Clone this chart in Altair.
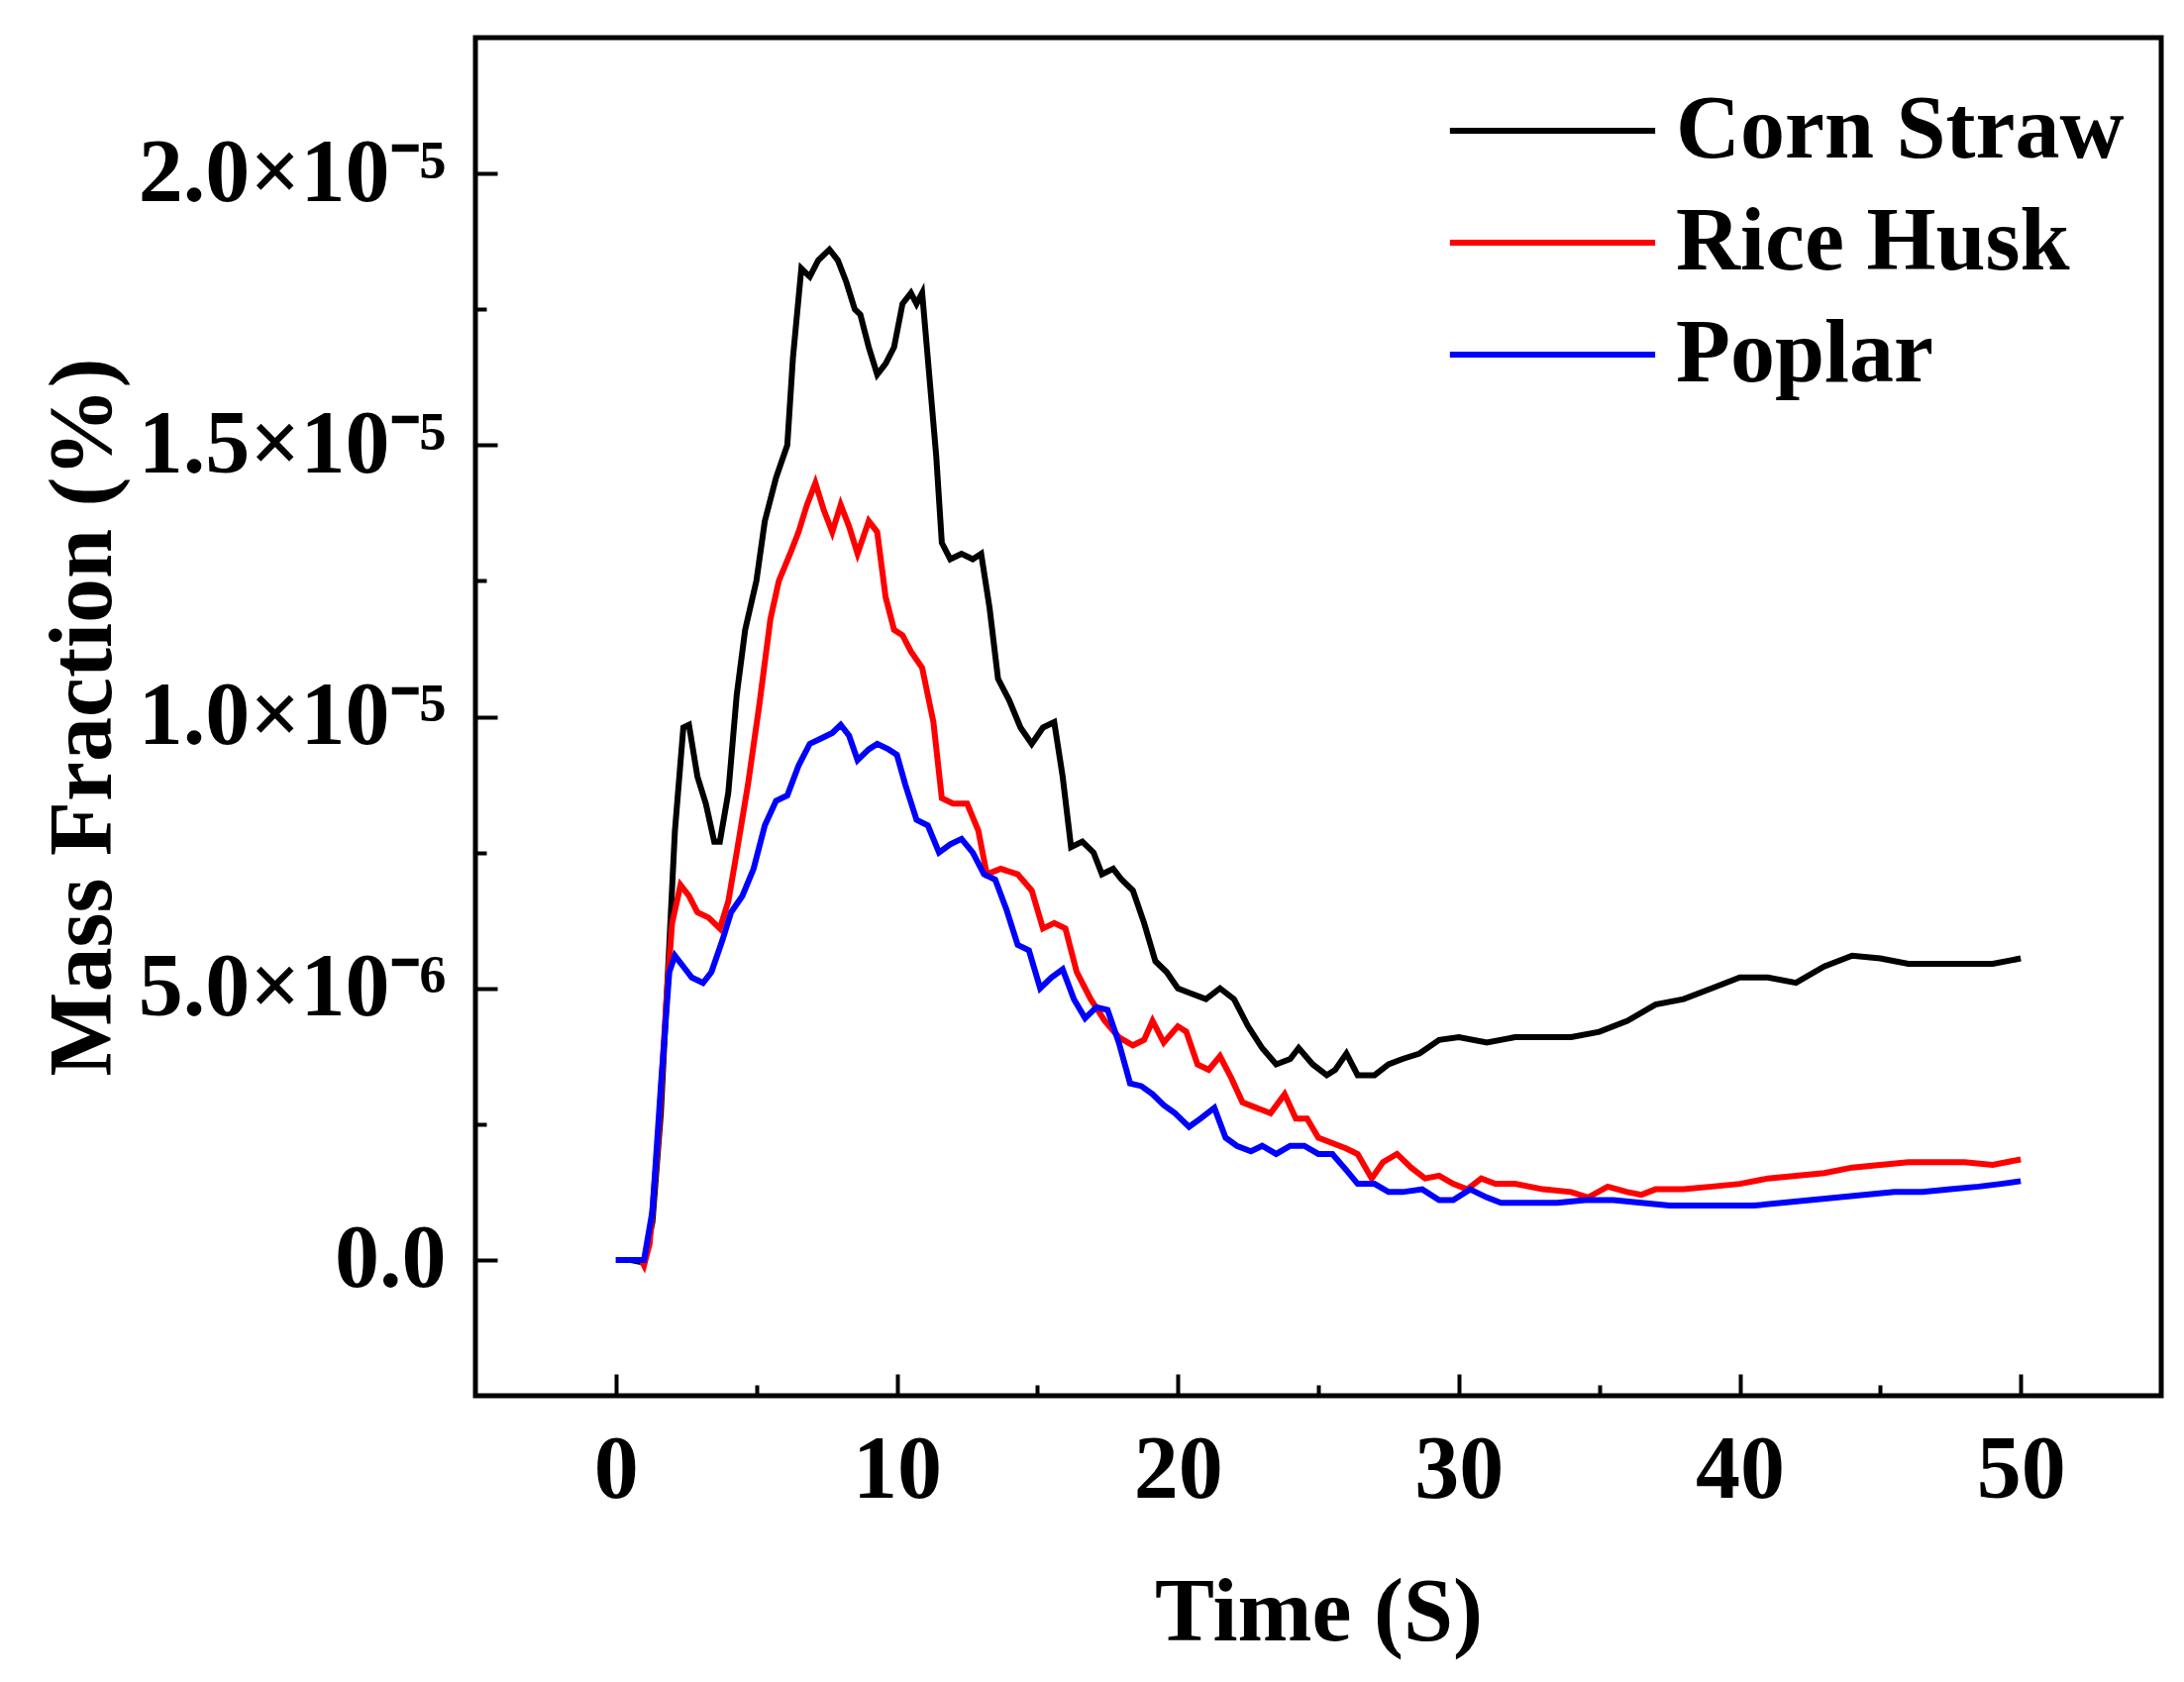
import altair as alt
import pandas as pd

FONT = "Liberation Serif"
SCALE = 1e-6  # values below are read in units of 1e-6

SERIES = ["Corn Straw", "Rice Husk", "Poplar"]
COLORS = ["#000000", "#FF0000", "#0000FF"]

corn_t = [0, 0.5, 1.0, 1.3, 1.6, 1.9, 2.1, 2.4, 2.6, 2.9, 3.2, 3.5, 3.7, 4.0, 4.3, 4.6,
          5.0, 5.3, 5.7, 6.1, 6.3, 6.6, 6.9, 7.2, 7.6, 7.9, 8.2, 8.5, 8.7, 9.0, 9.3,
          9.6, 9.9, 10.2, 10.5, 10.7, 10.9, 11.1, 11.4, 11.6, 11.9, 12.3, 12.7, 13.0,
          13.3, 13.6, 14.0, 14.4, 14.8, 15.2, 15.6, 15.9, 16.2, 16.6, 17.0, 17.3, 17.7,
          18.0, 18.4, 18.8, 19.2, 19.6, 20.0, 20.5, 21.0, 21.5, 22.0, 22.5, 23.0, 23.5,
          24.0, 24.3, 24.8, 25.3, 25.6, 26.0, 26.4, 27.0, 27.5, 28.0, 28.6, 29.3, 30.0,
          31.0, 32.0, 33.0, 34.0, 35.0, 36.0, 37.0, 38.0, 39.0, 40.0, 41.0, 42.0, 43.0,
          44.0, 45.0, 46.0, 47.0, 48.0, 49.0, 50.0]
corn_v = [0, 0, -0.05, 0.7, 2.7, 5.8, 7.9, 9.8, 9.85, 8.9, 8.4, 7.7, 7.7, 8.6, 10.4, 11.6,
          12.5, 13.6, 14.4, 15.0, 16.6, 18.25, 18.1, 18.4, 18.6, 18.4, 18.0, 17.5, 17.4,
          16.8, 16.3, 16.5, 16.8, 17.6, 17.8, 17.6, 17.8, 16.6, 14.8, 13.2, 12.9, 13.0,
          12.9, 13.0, 12.0, 10.7, 10.3, 9.8, 9.5, 9.8, 9.9, 8.9, 7.6, 7.7, 7.5, 7.1, 7.2,
          7.0, 6.8, 6.2, 5.5, 5.3, 5.0, 4.9, 4.8, 5.0, 4.8, 4.3, 3.9, 3.6, 3.7, 3.9, 3.6,
          3.4, 3.5, 3.8, 3.4, 3.4, 3.6, 3.7, 3.8, 4.05, 4.1, 4.0, 4.1, 4.1, 4.1, 4.2, 4.4,
          4.7, 4.8, 5.0, 5.2, 5.2, 5.1, 5.4, 5.6, 5.55, 5.45, 5.45, 5.45, 5.45, 5.55]

rice_t = [0, 0.5, 0.9, 1.0, 1.2, 1.5, 1.8, 2.0, 2.3, 2.6, 2.9, 3.3, 3.7, 4.0, 4.3, 4.7,
          5.1, 5.5, 5.8, 6.2, 6.5, 6.8, 7.1, 7.4, 7.7, 8.0, 8.3, 8.6, 9.0, 9.3, 9.6, 9.9,
          10.2, 10.5, 10.9, 11.3, 11.6, 12.0, 12.5, 12.9, 13.2, 13.7, 14.3, 14.8, 15.2,
          15.6, 16.0, 16.4, 16.9, 17.4, 17.9, 18.4, 18.8, 19.1, 19.5, 20.0, 20.3, 20.7,
          21.1, 21.5, 21.9, 22.3, 22.8, 23.3, 23.8, 24.2, 24.6, 25.0, 25.5, 26.0, 26.4,
          26.9, 27.3, 27.8, 28.3, 28.8, 29.3, 29.8, 30.3, 30.8, 31.3, 32.0, 33.0, 34.0,
          34.6, 35.3, 36.0, 36.5, 37.0, 38.0, 39.0, 40.0, 41.0, 42.0, 43.0, 44.0, 45.0,
          46.0, 47.0, 48.0, 49.0, 50.0]
rice_v = [0, 0, 0, -0.1, 0.3, 2.2, 4.8, 6.2, 6.9, 6.7, 6.4, 6.3, 6.1, 6.6, 7.5, 8.75,
          10.2, 11.8, 12.5, 13.0, 13.4, 13.9, 14.3, 13.8, 13.4, 13.9, 13.5, 13.0, 13.6,
          13.4, 12.2, 11.6, 11.5, 11.2, 10.9, 9.9, 8.5, 8.4, 8.4, 7.9, 7.1, 7.2, 7.1, 6.8,
          6.1, 6.2, 6.1, 5.3, 4.8, 4.4, 4.1, 3.95, 4.05, 4.4, 4.0, 4.3, 4.2, 3.6, 3.5,
          3.75, 3.35, 2.9, 2.8, 2.7, 3.05, 2.6, 2.6, 2.25, 2.15, 2.05, 1.95, 1.5, 1.8,
          1.95, 1.7, 1.5, 1.55, 1.4, 1.3, 1.5, 1.4, 1.4, 1.3, 1.25, 1.15, 1.35, 1.25, 1.2,
          1.3, 1.3, 1.35, 1.4, 1.5, 1.55, 1.6, 1.7, 1.75, 1.8, 1.8, 1.8, 1.75, 1.85]

poplar_t = [0, 0.5, 1.0, 1.3, 1.6, 1.9, 2.1, 2.4, 2.7, 3.1, 3.4, 3.8, 4.1, 4.5, 4.9, 5.3,
            5.7, 6.1, 6.5, 6.9, 7.3, 7.7, 8.0, 8.3, 8.6, 9.0, 9.3, 9.7, 10.0, 10.3, 10.7,
            11.1, 11.5, 11.9, 12.3, 12.7, 13.1, 13.5, 13.9, 14.3, 14.7, 15.1, 15.5, 15.9,
            16.3, 16.7, 17.1, 17.5, 17.9, 18.3, 18.7, 19.1, 19.5, 19.9, 20.4, 20.8, 21.3,
            21.7, 22.1, 22.6, 23.0, 23.5, 24.0, 24.5, 25.0, 25.5, 26.0, 26.4, 27.0, 27.5,
            28.0, 28.7, 29.3, 29.8, 30.4, 31.0, 31.5, 32.5, 33.5, 34.5, 35.5, 36.5, 37.5,
            38.5, 39.5, 40.5, 41.5, 42.5, 43.5, 44.5, 45.5, 46.5, 47.5, 48.5, 49.3, 50.0]
poplar_v = [0, 0, 0, 0.9, 3.2, 5.3, 5.6, 5.4, 5.2, 5.1, 5.3, 5.9, 6.4, 6.7, 7.2, 8.0,
            8.45, 8.55, 9.1, 9.5, 9.6, 9.7, 9.85, 9.65, 9.2, 9.4, 9.5, 9.4, 9.3, 8.75, 8.1,
            8.0, 7.5, 7.65, 7.75, 7.5, 7.1, 7.0, 6.45, 5.8, 5.7, 5.0, 5.2, 5.35, 4.8, 4.45,
            4.65, 4.6, 4.0, 3.25, 3.2, 3.05, 2.85, 2.7, 2.45, 2.6, 2.8, 2.25, 2.1, 2.0,
            2.1, 1.95, 2.1, 2.1, 1.95, 1.95, 1.65, 1.4, 1.4, 1.25, 1.25, 1.3, 1.1, 1.1,
            1.3, 1.15, 1.05, 1.05, 1.05, 1.1, 1.1, 1.05, 1.0, 1.0, 1.0, 1.0, 1.05, 1.1,
            1.15, 1.2, 1.25, 1.25, 1.3, 1.35, 1.4, 1.45]

x_major = [0, 10, 20, 30, 40, 50]
x_minor = [5, 15, 25, 35, 45]
y_major = [0, 5e-6, 1e-5, 1.5e-5, 2e-5]
y_minor = [2.5e-6, 7.5e-6, 1.25e-5, 1.75e-5]

frames = []
for name, ts, vs in [(SERIES[0], corn_t, corn_v), (SERIES[1], rice_t, rice_v), (SERIES[2], poplar_t, poplar_v)]:
    frames.append(pd.DataFrame({"series": name, "t": ts, "y": [v * SCALE for v in vs]}))
df = pd.concat(frames, ignore_index=True)

x_scale = alt.Scale(domain=[-5, 55], nice=False, zero=False)
y_scale = alt.Scale(domain=[-2.5e-6, 2.25e-5], nice=False, zero=False)

y_label_expr = (
    "datum.value == 0 ? '0.0' : (datum.value < 9e-6 ? "
    "format(datum.value * 1e6, '.1f') + '×10⁻⁶' : format(datum.value * 1e5, '.1f') + '×10⁻⁵')"
)

text_style = dict(labelFont=FONT, labelFontSize=90, labelFontWeight="bold", labelColor="black",
                  titleFont=FONT, titleFontSize=90, titleFontWeight="bold", titleColor="black",
                  labelLimit=0, maxExtent=800)

x_axis = alt.Axis(values=x_major, format="d", orient="bottom", domain=False, grid=False,
                  tickSize=22, tickWidth=4, tickColor="black", offset=-22, labelPadding=31,
                  labelOverlap=False, titlePadding=55, title="Time (S)", **text_style)
y_axis = alt.Axis(values=y_major, labelExpr=y_label_expr, orient="left", domain=False, grid=False,
                  tickSize=22, tickWidth=4, tickColor="black", offset=-22, labelPadding=30,
                  labelOverlap=False, titlePadding=9, title="Mass Fraction (%)", **text_style)
x_minor_axis = alt.Axis(values=x_minor, orient="bottom", labels=False, domain=False, grid=False,
                        tickSize=11, tickWidth=4, tickColor="black", offset=-11, title=None)
y_minor_axis = alt.Axis(values=y_minor, orient="left", labels=False, domain=False, grid=False,
                        tickSize=11, tickWidth=4, tickColor="black", offset=-11, title=None)

legend = alt.Legend(title=None, orient="none", legendX=983, legendY=48, padding=0,
                    symbolType="M-1.05,0H3.77", symbolSize=7396, symbolStrokeWidth=6,
                    labelFont=FONT, labelFontSize=90, labelFontWeight="bold", labelColor="black",
                    labelOffset=137, rowPadding=22, labelLimit=0)

base = alt.Chart(df)

lines = base.mark_line(strokeWidth=6).encode(
    x=alt.X("t:Q", scale=x_scale, axis=x_axis),
    y=alt.Y("y:Q", scale=y_scale, axis=y_axis),
    color=alt.Color("series:N", scale=alt.Scale(domain=SERIES, range=COLORS), legend=legend),
)

minor = base.mark_line(opacity=0).encode(
    x=alt.X("t:Q", scale=x_scale, axis=x_minor_axis),
    y=alt.Y("y:Q", scale=y_scale, axis=y_minor_axis),
    detail="series:N",
)

chart = (
    alt.layer(lines, minor)
    .resolve_axis(x="independent", y="independent")
    .properties(width=1702, height=1371, background="white",
                padding={"left": 31, "top": 30, "right": 5, "bottom": 5})
    .configure_view(stroke="black", strokeWidth=5)
)

chart.save("out.html", embed_options={"renderer": "svg", "actions": False})
